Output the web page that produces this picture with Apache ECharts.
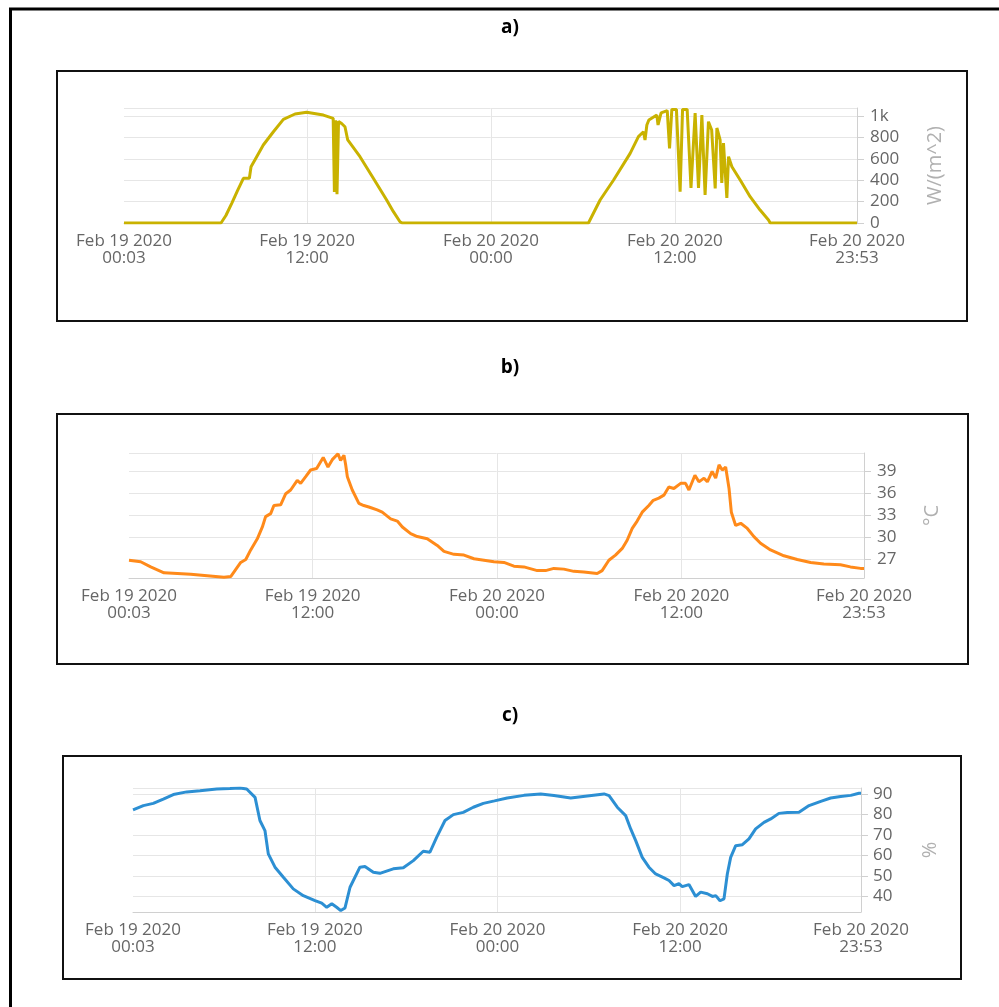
<!DOCTYPE html>
<html>
<head>
<meta charset="utf-8">
<title>Weather station, Feb 19 - Feb 20 2020</title>
<script src="https://cdn.jsdelivr.net/npm/echarts@6/dist/echarts.min.js"></script>
<style>
  html, body { margin: 0; padding: 0; background: #fff; }
  #chart { width: 999px; height: 1007px; }
</style>
</head>
<body>
<div id="chart"></div>
<script>
// x values are hours since Feb 19 2020 00:00
const startHour = 3 / 60
const endHour = 47 + 53 / 60

// a) irradiance, W/(m^2)
const irrTime = [startHour, 6.38, 6.7, 7.08, 7.45, 7.84, 8.23, 8.34, 8.71, 9.14, 9.8, 10.45, 11.21, 11.97, 13.06, 13.7,
  13.78, 13.86, 13.95, 14.05, 14.25, 14.47, 14.65, 15.45, 16.32, 17.19, 17.63, 18.06, 18.2,
  30.36, 31.12, 32.0, 33.08, 33.62, 33.95, 34.05, 34.17, 34.3, 34.82, 34.9, 35.1, 35.5, 35.65, 35.8, 36.1,
  36.34, 36.5, 36.8, 37.05, 37.32, 37.54, 37.76, 37.97, 38.19, 38.4, 38.63, 38.74, 38.95, 39.06, 39.17,
  39.39, 39.5, 39.72, 40.26, 40.91, 41.56, 42.11, 42.22, endHour]
const irrValue = [0, 0, 70, 184, 300, 418, 418, 526, 620, 729, 853, 969, 1019, 1035, 1009, 978,
  290, 960, 270, 950, 930, 900, 776, 620, 418, 215, 106, 12, 0,
  0, 215, 402, 651, 807, 853, 776, 916, 963, 1009, 916, 1030, 1050, 698, 1062, 1062,
  293, 1062, 1062, 327, 1028, 327, 1009, 262, 947, 869, 324, 888, 776, 374, 748,
  234, 620, 526, 402, 246, 121, 28, 0, 0]

// b) temperature, °C
const tempTime = [startHour, 0.81, 1.46, 2.33, 3.2, 4.07, 5.14, 6.23, 6.67, 7.32, 7.65, 7.97, 8.4, 8.73, 8.94,
  9.27, 9.48, 9.92, 10.25, 10.57, 11.0, 11.22, 11.55, 11.87, 12.26, 12.69, 13.0, 13.28, 13.65, 13.82,
  14.04, 14.15, 14.26, 14.58, 15.01, 15.33, 15.66, 16.2, 16.53, 17.08, 17.51, 17.84, 18.38, 18.81,
  19.46, 20.11, 20.55, 21.2, 21.85, 22.5, 23.15, 23.8, 24.45, 25.1, 25.75, 26.62, 27.16, 27.7, 28.35,
  29.0, 29.65, 30.52, 30.84, 31.28, 31.71, 32.15, 32.47, 32.8, 33.12, 33.45, 33.88, 34.17, 34.53,
  34.86, 35.18, 35.51, 35.95, 36.27, 36.49, 36.88, 37.14, 37.47, 37.69, 38.0, 38.23, 38.45, 38.66,
  38.88, 39.1, 39.25, 39.53, 39.86, 40.29, 40.72, 41.15, 41.8, 42.67, 43.54, 44.41, 45.27, 46.35,
  47.0, 47.66, endHour]
const tempValue = [26.9, 26.7, 26.0, 25.2, 25.1, 25.0, 24.8, 24.6, 24.7, 26.6, 27.0, 28.3, 29.8, 31.4, 32.8,
  33.2, 34.3, 34.4, 35.9, 36.4, 37.7, 37.3, 38.2, 39.1, 39.3, 40.8, 39.5, 40.5, 41.3, 40.4,
  41.1, 39.8, 38.2, 36.4, 34.6, 34.3, 34.1, 33.7, 33.4, 32.5, 32.2, 31.4, 30.5, 30.1,
  29.8, 28.9, 28.1, 27.7, 27.6, 27.1, 26.9, 26.7, 26.6, 26.1, 26.0, 25.5, 25.5, 25.8, 25.7,
  25.4, 25.3, 25.1, 25.5, 26.9, 27.6, 28.5, 29.6, 31.2, 32.2, 33.4, 34.3, 35.0, 35.3,
  35.7, 36.8, 36.6, 37.3, 37.3, 36.4, 38.4, 37.5, 38.0, 37.5, 38.9, 38.0, 39.8, 39.1,
  39.5, 36.6, 33.4, 31.6, 31.9, 31.2, 30.1, 29.2, 28.3, 27.5, 27.0, 26.6, 26.4, 26.3,
  26.0, 25.8, 25.8]

// c) relative humidity, %
const humTime = [startHour, 0.73, 1.38, 2.04, 2.7, 3.58, 4.45, 5.55, 6.42, 7.08, 7.52, 8.07, 8.39, 8.72, 8.94,
  9.38, 9.93, 10.58, 11.24, 12.01, 12.45, 12.78, 13.11, 13.43, 13.7, 13.98, 14.31, 14.96, 15.29,
  15.84, 16.27, 17.15, 17.81, 18.47, 19.12, 19.56, 20.0, 20.55, 21.1, 21.75, 22.41, 23.07, 23.8,
  24.64, 25.74, 26.84, 27.71, 28.81, 29.9, 31.0, 31.33, 31.87, 32.42, 32.75, 33.08, 33.51, 33.95,
  34.39, 34.94, 35.27, 35.6, 35.92, 36.14, 36.58, 37.02, 37.35, 37.79, 38.12, 38.34, 38.62, 38.88,
  39.1, 39.32, 39.65, 40.09, 40.52, 40.96, 41.51, 41.95, 42.49, 43.04, 43.81, 44.47, 45.24, 45.89,
  46.55, 47.21, 47.75, endHour]
const humValue = [82.2, 84.3, 85.4, 87.5, 89.7, 91.0, 91.6, 92.4, 92.6, 92.9, 92.4, 88.3, 77.0, 72.1, 60.7,
  54.2, 49.3, 43.6, 40.3, 37.9, 36.6, 34.6, 36.3, 34.6, 33.0, 34.3, 44.4, 54.2, 54.5,
  51.7, 51.2, 53.4, 53.9, 57.4, 62.0, 61.5, 68.8, 77.0, 79.9, 81.0, 83.5, 85.4, 86.6,
  88.0, 89.3, 90.0, 89.2, 88.0, 89.0, 90.0, 89.2, 83.5, 79.4, 72.9, 67.2, 59.0, 54.2,
  50.9, 49.0, 47.7, 45.2, 46.1, 44.7, 45.7, 39.9, 42.0, 41.2, 39.9, 40.3, 37.8, 38.7,
  50.9, 59.0, 64.7, 65.2, 68.0, 72.9, 76.1, 77.8, 80.5, 80.9, 81.0, 84.3, 86.4, 88.0,
  88.7, 89.3, 90.3, 90.3]

const panelTitles = ['a)', 'b)', 'c)']
const axisNames = ['W/(m^2)', '°C', '%']

const font = '"Open Sans", "Noto Sans", sans-serif'

function pad(n) {
  return n < 10 ? '0' + n : '' + n
}

function timeLabel(h) {
  const total = Math.round(h * 60)
  const day = 19 + Math.floor(total / 1440)
  const hh = Math.floor((total % 1440) / 60)
  return 'Feb ' + day + ' 2020\n' + pad(hh) + ':' + pad(total % 60)
}

function pairs(xs, ys) {
  return xs.map((x, i) => [x, ys[i]])
}

// grid boxes and the black frames drawn round each panel
const grids = [
  { left: 124, top: 108, width: 733, height: 115 },
  { left: 129, top: 453, width: 735, height: 125 },
  { left: 133, top: 788, width: 728, height: 124 }
]
const frames = [
  { x: 57, y: 71, width: 910, height: 250 },
  { x: 57, y: 414, width: 911, height: 250 },
  { x: 63, y: 756, width: 898, height: 223 }
]
const titleY = [28, 368, 716]

const yScale = [
  { min: 0, max: 1075, step: 200, gap: 68, margin: 13, showMin: true },
  { min: 24.5, max: 41.4, step: 3, gap: 58, margin: 13, showMin: false },
  { min: 32.3, max: 92.9, step: 10, gap: 59, margin: 12, showMin: false }
]
const colors = ['#c9b200', '#ff8a1a', '#2c8fd3']
const series = [pairs(irrTime, irrValue), pairs(tempTime, tempValue), pairs(humTime, humValue)]

const chart = echarts.init(document.getElementById('chart'))

chart.setOption({
  animation: false,
  textStyle: { fontFamily: font },
  grid: grids.map(g => Object.assign({ containLabel: false }, g)),
  xAxis: grids.map((g, i) => ({
    type: 'value',
    gridIndex: i,
    min: startHour,
    max: endHour,
    minInterval: 12,
    maxInterval: 12,
    axisLine: { onZero: false, lineStyle: { color: '#d0d0d0' } },
    axisTick: { show: false },
    axisLabel: {
      formatter: timeLabel,
      color: '#666',
      fontSize: 17,
      lineHeight: 17,
      margin: 10,
      fontFamily: font
    },
    splitLine: { show: true, showMinLine: false, showMaxLine: false, lineStyle: { color: '#e6e6e6' } }
  })),
  yAxis: yScale.map((s, i) => ({
    type: 'value',
    gridIndex: i,
    position: 'right',
    min: s.min,
    max: s.max,
    minInterval: s.step,
    maxInterval: s.step,
    name: axisNames[i],
    nameLocation: 'middle',
    nameRotate: 90,
    nameGap: s.gap,
    nameTextStyle: { color: '#b0b0b0', fontSize: 20, fontFamily: font },
    axisLine: { show: true, onZero: false, lineStyle: { color: '#d0d0d0' } },
    axisTick: { show: true, length: 7, lineStyle: { color: '#d0d0d0' } },
    axisLabel: {
      color: '#666',
      fontSize: 17,
      margin: s.margin,
      fontFamily: font,
      showMinLabel: s.showMin,
      showMaxLabel: false,
      formatter: v => (v >= 1000 ? v / 1000 + 'k' : '' + v)
    },
    splitLine: { show: true, lineStyle: { color: '#e6e6e6' } }
  })),
  series: series.map((d, i) => ({
    type: 'line',
    xAxisIndex: i,
    yAxisIndex: i,
    data: d,
    symbol: 'none',
    smooth: false,
    lineStyle: { color: colors[i], width: 3 },
    itemStyle: { color: colors[i] }
  })),
  graphic: [
    // outer frame, only its top and left edges fall inside the picture
    {
      type: 'rect',
      shape: { x: 10.5, y: 9, width: 2000, height: 2000 },
      style: { fill: 'none', stroke: '#000', lineWidth: 3 }
    }
  ].concat(frames.map(f => ({
    type: 'rect',
    shape: f,
    style: { fill: 'none', stroke: '#111', lineWidth: 2 }
  }))).concat(panelTitles.map((t, i) => ({
    type: 'text',
    x: 510,
    y: titleY[i],
    style: {
      text: t,
      fill: '#000',
      fontSize: 19,
      fontWeight: 'bold',
      fontFamily: font,
      align: 'center',
      verticalAlign: 'middle'
    }
  })))
})
</script>
</body>
</html>
